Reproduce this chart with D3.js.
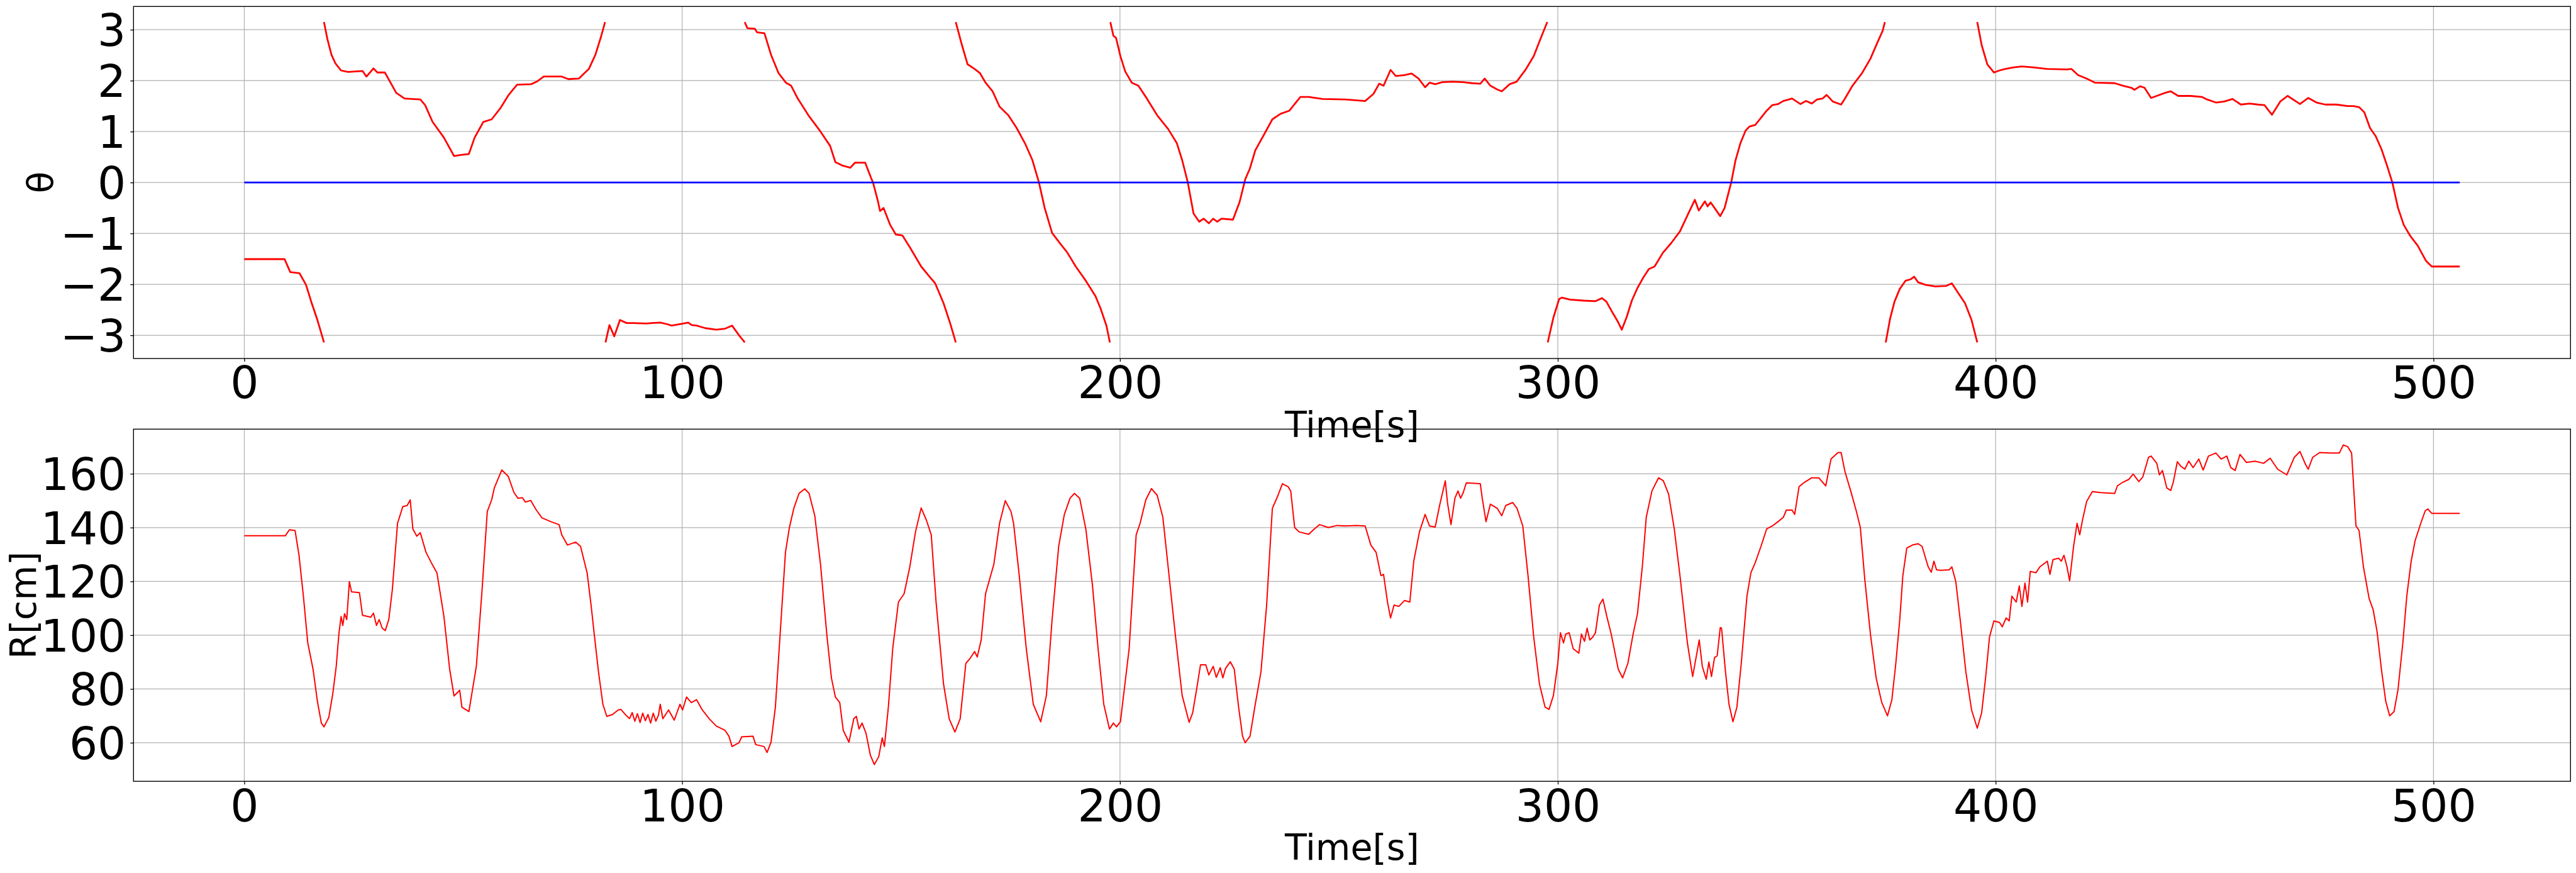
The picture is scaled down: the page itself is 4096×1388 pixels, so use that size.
<!DOCTYPE html>
<html>
<head>
<meta charset="utf-8">
<script src="https://cdn.jsdelivr.net/npm/d3@7"></script>
<style>
  html, body { margin: 0; padding: 0; background: #ffffff; }
  svg { display: block; }
  text { font-family: "DejaVu Sans", sans-serif; fill: #000; }
</style>
</head>
<body>
<script>
// ---------------- DATA ----------------
const xTicks = [0, 100, 200, 300, 400, 500];
const thetaTicks = [-3, -2, -1, 0, 1, 2, 3];
const rTicks = [60, 80, 100, 120, 140, 160];
const xLabel = "Time[s]";
const thetaLabel = "θ";
const rLabel = "R[cm]";

// reference (blue) line
const refTime = [0, 506];
const refValue = [0, 0];

// θ series (wrapped to [-π, π]); null marks a wrap break
const thetaTime = [
  0, 9.2, 10.5, 12.6, 14.1, 15.4, 16.7, 18.2, null,
  18.2, 19.0, 19.9, 20.8, 22.1, 23.7, 25.3, 27, 27.9, 28.6, 29.5, 30.4, 32.1, 33.6, 34.7, 36.6, 40.2, 41.3, 43, 45.6, 47.9, 49.4, 51.3, 52.6, 54.6, 56.5, 58.5, 60.3, 62.3, 65.5, 66.8, 68.4, 72.5, 74.0, 76.4, 78.7, 80.2, 81.5, 82.4, null,
  82.5, 83.4, 84.5, 85.8, 87.3, 89, 91.8, 93, 95, 96.5, 97.6, 99.5, 101.4, 102.2, 103.3, 105.3, 107.8, 109.8, 111.4, 113, 114.3, null,
  114.3, 114.9, 116.6, 117.1, 118.8, 120.3, 122, 123.7, 124.9, 126.4, 129, 131.6, 133.8, 135, 136.7, 138.4, 139.5, 141.8, 143.1, 143.6, 144.7, 145.2, 146, 147.5, 148.8, 150.3, 152, 154.6, 156.5, 157.8, 159.7, 161.2, 162.5, null,
  162.5, 163.9, 165.2, 166.8, 168, 169.3, 170.9, 172.5, 174.5, 176.4, 178.3, 180, 181.5, 182.8, 184.5, 186, 188, 189.9, 192.2, 194.4, 195.6, 196.9, 197.7, null,
  197.8, 198.5, 199.1, 200.1, 201.2, 202.7, 204.2, 205.9, 208.5, 211, 213, 214.2, 215.5, 216.8, 218.1, 219.1, 220.3, 221.3, 222.2, 223.2, 225.8, 227.3, 228.6, 229.7, 230.9, 232.9, 234.8, 236.7, 238.7, 241.2, 243.1, 246.3, 251.5, 256, 257.9, 259.2, 260.2, 261.8, 263, 265, 266.6, 268.2, 269.7, 270.7, 272, 273.6, 275.9, 278.4, 280.4, 282.3, 283.3, 284.6, 286.1, 287.2, 289, 290.6, 292.6, 294.5, 296, 297.6, null,
  297.7, 299, 300.3, 300.9, 302.8, 306, 308.6, 310.1, 311.1, 312.4, 313.7, 314.6, 315.7, 316.9, 318.2, 319.5, 320.8, 322.1, 324, 325.9, 327.9, 329.8, 331.3, 332.2, 333.6, 334.2, 334.9, 335.8, 337.1, 338.1, 339.6, 340.6, 341.7, 342.9, 343.8, 345.1, 346.4, 347.7, 349, 350.3, 351.5, 353.5, 355.4, 356.7, 358, 359.2, 360.5, 361.4, 362.8, 364.7, 365.6, 367.3, 369.5, 371.4, 372.9, 374.2, 374.7, null,
  374.9, 375.9, 376.9, 378.1, 379.4, 380.6, 381.4, 382.3, 384, 386.2, 388.7, 390, 391.3, 393, 394.5, 395.8, null,
  395.8, 396.8, 398.1, 399.6, 400.9, 402.2, 404.1, 406, 408.6, 411.8, 416.3, 417.3, 418.8, 420.8, 422.7, 427.2, 429.1, 431, 431.7, 433, 434, 435.5, 436.8, 438.7, 440, 441.7, 444.5, 447.1, 448.3, 450.3, 452.2, 454.1, 456, 458, 459.9, 461.4, 463.1, 465, 466.7, 469.5, 471.4, 473.3, 475.3, 477.8, 480.4, 481.7, 483, 484.2, 485.5, 486.8, 488.1, 489.4, 490.6, 491.9, 493.2, 494.7, 496.4, 498.3, 499.6, 506
];
const thetaValue = [
  -1.505, -1.505, -1.76, -1.78, -2.01, -2.37, -2.70, -3.14, null,
  3.15, 2.81, 2.51, 2.34, 2.2, 2.17, 2.18, 2.19, 2.08, 2.15, 2.24, 2.16, 2.16, 1.93, 1.76, 1.65, 1.63, 1.52, 1.19, 0.88, 0.52, 0.54, 0.56, 0.88, 1.19, 1.24, 1.46, 1.71, 1.92, 1.93, 1.98, 2.08, 2.08, 2.03, 2.04, 2.23, 2.51, 2.87, 3.15, null,
  -3.14, -2.80, -3.02, -2.70, -2.76, -2.76, -2.77, -2.76, -2.75, -2.78, -2.81, -2.78, -2.75, -2.80, -2.81, -2.86, -2.89, -2.87, -2.81, -3.0, -3.14, null,
  3.15, 3.03, 3.02, 2.95, 2.93, 2.51, 2.15, 1.96, 1.9, 1.65, 1.30, 1.0, 0.72, 0.40, 0.33, 0.29, 0.39, 0.39, 0.10, 0, -0.36, -0.56, -0.50, -0.83, -1.02, -1.04, -1.27, -1.65, -1.85, -1.98, -2.37, -2.76, -3.14, null,
  3.15, 2.70, 2.32, 2.23, 2.15, 1.96, 1.79, 1.49, 1.32, 1.07, 0.77, 0.44, 0, -0.50, -0.99, -1.16, -1.38, -1.65, -1.93, -2.23, -2.48, -2.81, -3.14, null,
  3.15, 2.88, 2.84, 2.48, 2.18, 1.96, 1.90, 1.68, 1.32, 1.05, 0.77, 0.44, 0, -0.61, -0.77, -0.71, -0.80, -0.71, -0.77, -0.71, -0.73, -0.39, 0.06, 0.28, 0.63, 0.94, 1.24, 1.35, 1.41, 1.68, 1.68, 1.64, 1.63, 1.60, 1.74, 1.94, 1.90, 2.21, 2.09, 2.11, 2.14, 2.04, 1.87, 1.96, 1.93, 1.97, 1.98, 1.97, 1.95, 1.94, 2.04, 1.90, 1.83, 1.79, 1.93, 1.98, 2.21, 2.48, 2.81, 3.15, null,
  -3.14, -2.65, -2.29, -2.26, -2.30, -2.32, -2.33, -2.27, -2.34, -2.54, -2.73, -2.89, -2.65, -2.32, -2.07, -1.87, -1.70, -1.65, -1.38, -1.19, -0.96, -0.61, -0.34, -0.55, -0.37, -0.47, -0.39, -0.5, -0.66, -0.5, 0, 0.44, 0.77, 1.02, 1.10, 1.13, 1.27, 1.41, 1.52, 1.54, 1.60, 1.65, 1.54, 1.60, 1.55, 1.63, 1.65, 1.72, 1.59, 1.53, 1.65, 1.90, 2.15, 2.43, 2.73, 2.98, 3.15, null,
  -3.14, -2.67, -2.34, -2.09, -1.93, -1.90, -1.85, -1.96, -2.01, -2.04, -2.03, -1.98, -2.15, -2.37, -2.70, -3.14, null,
  3.15, 2.70, 2.32, 2.16, 2.2, 2.23, 2.26, 2.28, 2.26, 2.23, 2.22, 2.23, 2.11, 2.04, 1.96, 1.95, 1.90, 1.86, 1.82, 1.89, 1.86, 1.66, 1.70, 1.76, 1.79, 1.70, 1.70, 1.68, 1.63, 1.57, 1.59, 1.64, 1.53, 1.55, 1.53, 1.52, 1.33, 1.59, 1.70, 1.54, 1.66, 1.57, 1.53, 1.53, 1.50, 1.50, 1.48, 1.38, 1.07, 0.91, 0.66, 0.33, 0, -0.50, -0.83, -1.05, -1.24, -1.54, -1.65, -1.65
];

// R series
const rTime = [
  0, 9.4, 10.3, 11.6, 12.5, 13.5, 14.5, 15.7, 16.7, 17.6, 18.2, 19.3, 20.2, 21, 21.6, 22.1, 22.5, 22.9, 23.4, 24, 24.5, 26.3, 27, 28.9, 29.5, 30.2, 30.8, 31.5, 32.2, 33, 33.8, 35, 36.2, 37.2, 37.9, 38.5, 39.4, 40.2, 41.5, 42.7, 44, 45.6, 46.9, 47.9, 49.2, 49.7, 51.3, 53, 54.3, 55.5, 56.5, 57.1, 58.8, 60.3, 61.6, 62.5, 63.5, 64.2, 65.4, 66.7, 68, 70, 71.9, 72.5, 73.8, 75.7, 76.8, 78.3, 79.2, 80, 80.9, 81.9, 82.8, 84.1, 85.4, 86, 87.3, 88, 88.6, 89.2, 89.8, 90.4, 91, 91.6, 92.2, 92.8, 93.4, 94, 94.6, 95, 95.6, 96.9, 98.2, 99.5, 100.1, 101, 102.1, 103.3, 104.6, 106.2, 107.8, 109.8, 110.7, 111.4, 113, 113.6, 116.2, 116.8, 118.7, 119.4, 120.3, 121.3, 122.6, 123.6, 124.5, 125.5, 126.7, 128, 129, 130.3, 131.6, 133.1, 134.1, 135, 136, 136.8, 138.1, 139.2, 139.8, 140.4, 141.1, 142, 143, 143.9, 144.9, 145.7, 146.2, 147.1, 148.1,
  149.4, 150.7, 152, 153.3, 154.6, 155.8, 156.9, 158, 159.7, 161, 162.3, 163.5, 164.8, 165.7, 166.8, 167.4, 168.3, 169.3, 171.2, 172.5, 173.8, 175.1, 175.7, 177, 178.6, 180.2, 181.9, 183.2, 184.5, 186, 187.3, 188.6, 189.6, 190.8, 192.2, 193.7, 195, 196.3, 197.6, 198.5, 199.2, 200.1, 202.1, 203.7, 204.6, 205.9, 207.2, 208.5, 209.8, 211, 212.7, 214.2, 215.8, 216.6, 217.5, 218.4, 219.6, 220.3, 221.3, 222, 222.9, 223.5, 224.1, 225.2, 226.1, 227.1, 228, 228.6, 229.7, 230.9, 232.2, 233.5, 234.8, 236.1, 237.1, 238.4, 239, 239.9, 240.9, 243.1, 244.4, 245.6, 247.6, 249.6, 251.5, 254, 256, 257.3, 258.5, 259.6, 260.2, 261.1, 261.8, 262.6, 263.7, 265, 266.2, 267.1, 268.4, 269.7, 270.7, 272, 273, 274.3, 274.8, 275.6, 276.5, 277.2, 277.8, 278.4, 279.1, 282.3, 282.7, 283.6, 284.6, 286.2, 287.2, 288.1, 289.7, 290.7, 292, 293.2, 294.5, 295.8, 297.1, 298, 299, 300, 300.6, 301.3, 301.8, 302.6, 303.5, 304.8, 305.4, 306.1, 306.7, 307.3, 308, 308.6, 309.5, 310.3, 311.2, 312.2, 313.8, 314.8, 316, 317.2, 318.2, 319.3, 320.2, 321.5, 323, 324.1, 325.3, 326.6, 327.9, 329.6, 330.8,
  332.3, 333, 333.9, 334.5, 335.1, 335.8, 336.4, 337.1, 337.4, 338.3, 339.1, 340, 340.9, 341.9, 343.2, 344.1, 345.1, 346.4, 347.7, 349, 350.3, 351.5, 352.2, 353.5, 354.1, 355.1, 356.4, 358, 359.6, 361.2, 362.4, 364, 364.7, 365.6, 366.9, 368.2, 369.1, 370.1, 371.4, 372.7, 374, 375.3, 376.3, 377.2, 378.1, 378.8, 379.7, 381, 382.3, 383.2, 384, 384.6, 385.3, 385.9, 386.5, 387.4, 389.4, 390, 390.9, 391.9, 393.2, 394.5, 395.8, 396.8, 397.7, 398.6, 399.6, 400.9, 401.5, 402.4, 403.1, 403.7, 404.7, 405.4, 406, 406.7, 407.3, 407.9, 409.2, 410.1, 411.8, 412.4, 413.1, 414.4, 415, 415.6, 416.3, 416.9, 417.8, 418.6, 419.2, 419.9, 420.8, 422.1, 424, 427.2, 427.8, 429.1, 430.4, 431.4, 432.7, 433.6, 434.9, 435.5, 436.8, 437.4, 438.1, 439.1, 440, 440.6, 441.5, 442.3, 443.2, 444.1, 445.1, 446.4, 447.4, 448.6, 450.3, 451.5, 452.8, 453.7, 454.7, 455.8, 457.3, 459.2, 461.2, 462.7, 464.4, 466.5, 468.2, 469.5, 470.8, 471.4, 472.4, 474, 476.5, 478.5, 479.4, 480.4, 481.3, 482.3, 483, 484, 485.3, 486.2, 487.1, 488.1, 489.1, 490, 491, 491.9, 493, 493.9, 494.9, 495.8, 497.1, 498.1, 498.7, 499.6, 506
];
const rValue = [
  137, 137, 139.2, 138.9, 129.7, 114.5, 97.1, 87.4, 75.4, 67.3, 65.9, 69.4, 78.1, 88.4, 100.4, 106.9, 103.6, 108, 105.8, 119.9, 116.1, 115.8, 107.4, 106.7, 108.2, 103.6, 105.8, 102.6, 101.7, 105.8, 116.7, 141.6, 147.8, 148.2, 150.3, 139.5, 136.8, 138.1, 130.8, 127, 123.2, 106.9, 87.4, 77.4, 79.5, 73.2, 71.6, 88.4, 116.7, 146, 150.3, 154.7, 161.4, 159, 153, 150.9, 151.1, 149.5, 150.1, 146.5, 143.6, 142.2, 141.1, 137.3, 133.5, 134.6, 133, 123.2, 111.2, 99.3, 86.3, 74.3, 69.8, 70.5, 72.2, 72.4, 70, 69, 71.2, 68, 70.8, 67.5, 71, 68.2, 70.5, 67.3, 71, 68, 70.3, 74.3, 68.9, 72.2, 68.4, 74.3, 72.2, 77, 74.9, 76, 72.2, 68.9, 66.2, 64.6, 62.4, 58.6, 60, 62.2, 62.4, 59.3, 58.6, 56.4, 60.2, 73.2, 105.8, 130.8, 140, 147.1, 152.7, 154.4, 152.7, 144.4, 126.4, 99.3, 84.1, 77, 74.9, 64.6, 60.2, 68.9, 69.8, 65.1, 67.3, 63.5, 55.3, 51.9, 54.8, 61.8, 58.6, 73.2, 95,
  112.3, 115.4, 125.4, 138.4, 147.3, 142.7, 137.3, 112.3, 81.9, 68.9, 64, 68.9, 89.5, 91.2, 93.9, 91.9, 98.2, 115.4, 126.4, 141.6, 150, 146, 141.6, 122.1, 95, 74.3, 67.8, 77.6, 105.8, 133, 144.9, 150.9, 152.7, 150.9, 139.5, 118.8, 95, 74.3, 65.1, 67.3, 65.9, 67.8, 95, 137.3, 141.6, 150.3, 154.5, 152, 143.8, 125.4, 99.3, 77.6, 67.6, 71.1, 79.8, 89, 89, 85.2, 88.4, 84.3, 87.9, 84.1, 87.6, 90.1, 87.4, 73.2, 62.4, 60, 62.4, 74.3, 86.3, 111.2, 147.1, 152, 156.3, 155.2, 153.6, 140, 138.4, 137.5, 139.5, 141.1, 140, 140.8, 140.6, 140.8, 140.6, 133.5, 130.8, 122.1, 122.6, 112.3, 106.4, 111.2, 110.7, 112.9, 112.3, 127.5, 138.4, 144.9, 140.6, 140.2, 148.2, 157.4, 149.3, 141.1, 150.9, 153.6, 150.9, 153, 156.6, 156.3, 151.4, 142.2, 148.7, 147.1, 144.4, 148.2, 149.3, 147.1, 140.6, 122.1, 99.3, 81.9, 73.2, 72.4, 77.6, 89.5, 100.9, 97.1, 100.4, 100.9, 95, 93.3, 100.4, 97.7, 102.6, 98.2, 99.3, 100.9, 111.2, 113.4, 106.9, 100.4, 87.4, 84.1, 89.5, 100.4, 108, 125.4, 143.8, 153.6, 158.5, 157.4, 152.5, 139.5, 122.1, 97.1, 84.6,
  98.2, 88.4, 83.6, 90, 84.6, 91.7, 92.3, 102.8, 102.6, 86.3, 74.3, 67.8, 73.2, 89.5, 114.5, 123.2, 127, 133, 139.5, 140.6, 142.2, 143.8, 146.5, 146.5, 144.9, 155.2, 156.9, 158.5, 158.5, 155.5, 165.5, 167.9, 167.9, 160.7, 153.6, 146, 140, 121, 100.4, 84.1, 74.9, 70, 76, 89.5, 105.8, 122.1, 132.4, 133.5, 134, 133, 128.6, 125.4, 123.4, 127.5, 124.3, 124.1, 124.3, 125.4, 119.9, 105.8, 86.3, 72.2, 65.4, 71.1, 84.1, 99.3, 105.3, 104.7, 103.1, 106.4, 105.3, 114.5, 112.3, 118.3, 110.7, 119.4, 112.3, 123.7, 123.2, 125.4, 127.5, 122.6, 128.1, 128.6, 127.5, 129.7, 125.4, 120.2, 133, 141.6, 137.3, 143.3, 149.8, 153.4, 153, 152.7, 155.5, 156.9, 157.9, 159.9, 157.1, 158.8, 166.1, 166.6, 163.9, 159.6, 161.2, 154.7, 153.8, 157.1, 164.5, 162.8, 161.7, 164.7, 162.3, 165.5, 161.4, 166.6, 167.7, 165.5, 166.6, 162.3, 161.2, 167.2, 164.2, 164.7, 163.9, 165.8, 161.7, 159.6, 166.1, 168.3, 163.4, 161.7, 166.1, 167.9, 167.7, 167.7, 170.7, 170.1, 167.7, 140.6, 138.9, 125.4, 113.6, 109.6, 101.5, 87.4, 75.4, 70, 71.6, 79.8, 97.1, 114.5, 127.5, 135.1, 141.6, 146.2, 146.9, 145.3, 145.3
];

// ---------------- LAYOUT ----------------
const W = 4096, H = 1388;
const left = 212.3, right = 4087.3;
const top1 = 10.3, bottom1 = 570;
const top2 = 682.3, bottom2 = 1242.2;
const xDomain = [-25.3, 531.3];
const thetaDomain = [-3.456, 3.456];
const rDomain = [45.66, 176.6];

const tickFont = 71, labelFont = 57;

const svg = d3.select("body").append("svg")
  .attr("width", W).attr("height", H)
  .attr("viewBox", `0 0 ${W} ${H}`);

svg.append("rect").attr("width", W).attr("height", H).attr("fill", "#ffffff");

const x = d3.scaleLinear().domain(xDomain).range([left, right]);

function toPoints(ts, vs) {
  return ts.map((t, i) => (t === null || vs[i] === null) ? null : [t, vs[i]]);
}

function panel(y, yTicks, top, bottom, series, yLabel, yLabelX) {
  const g = svg.append("g");
  // grid
  g.append("g").selectAll("line.vg").data(xTicks).join("line")
    .attr("x1", d => x(d)).attr("x2", d => x(d))
    .attr("y1", top).attr("y2", bottom)
    .attr("stroke", "#b0b0b0").attr("stroke-width", 1.2);
  g.append("g").selectAll("line.hg").data(yTicks).join("line")
    .attr("x1", left).attr("x2", right)
    .attr("y1", d => y(d)).attr("y2", d => y(d))
    .attr("stroke", "#b0b0b0").attr("stroke-width", 1.2);

  // series
  const clipId = "clip" + Math.round(top);
  svg.append("clipPath").attr("id", clipId).append("rect")
    .attr("x", left).attr("y", top).attr("width", right - left).attr("height", bottom - top);
  const line = d3.line().defined(d => d !== null).x(d => x(d[0])).y(d => y(d[1]));
  series.forEach(s => {
    g.append("path")
      .attr("d", line(s.points))
      .attr("fill", "none")
      .attr("stroke", s.color)
      .attr("stroke-width", s.width)
      .attr("stroke-linejoin", "round")
      .attr("clip-path", `url(#${clipId})`);
  });

  // axes
  const xa = g.append("g").attr("transform", `translate(0,${bottom})`)
    .call(d3.axisBottom(x).tickValues(xTicks).tickFormat(d3.format("d")).tickSize(5).tickSizeOuter(0).tickPadding(8));
  const ya = g.append("g").attr("transform", `translate(${left},0)`)
    .call(d3.axisLeft(y).tickValues(yTicks).tickFormat(d3.format("d")).tickSize(5).tickSizeOuter(0).tickPadding(7));
  [xa, ya].forEach(a => {
    a.select(".domain").remove();
    a.selectAll(".tick line").attr("stroke", "#000").attr("stroke-width", 1.3);
    a.selectAll(".tick text").attr("font-family", "DejaVu Sans").attr("font-size", tickFont).attr("fill", "#000");
  });
  ya.selectAll(".tick text").attr("dy", "0.36em");

  // frame
  g.append("rect").attr("x", left).attr("y", top).attr("width", right - left).attr("height", bottom - top)
    .attr("fill", "none").attr("stroke", "#000").attr("stroke-width", 1.4);

  // labels
  g.append("text").attr("x", (left + right) / 2).attr("y", bottom + 125)
    .attr("text-anchor", "middle").attr("font-size", labelFont).text(xLabel);
  g.append("text")
    .attr("transform", `translate(${yLabelX},${(top + bottom) / 2}) rotate(-90)`)
    .attr("text-anchor", "middle").attr("font-size", labelFont).text(yLabel);
}

const yTheta = d3.scaleLinear().domain(thetaDomain).range([bottom1, top1]);
const yR = d3.scaleLinear().domain(rDomain).range([bottom2, top2]);

panel(yTheta, thetaTicks, top1, bottom1, [
  { points: toPoints(thetaTime, thetaValue), color: "#ff0000", width: 2.8 },
  { points: toPoints(refTime, refValue), color: "#0000ff", width: 2.6 }
], thetaLabel, 84);

panel(yR, rTicks, top2, bottom2, [
  { points: toPoints(rTime, rValue), color: "#ff0000", width: 2.0 }
], rLabel, 57);
</script>
</body>
</html>
